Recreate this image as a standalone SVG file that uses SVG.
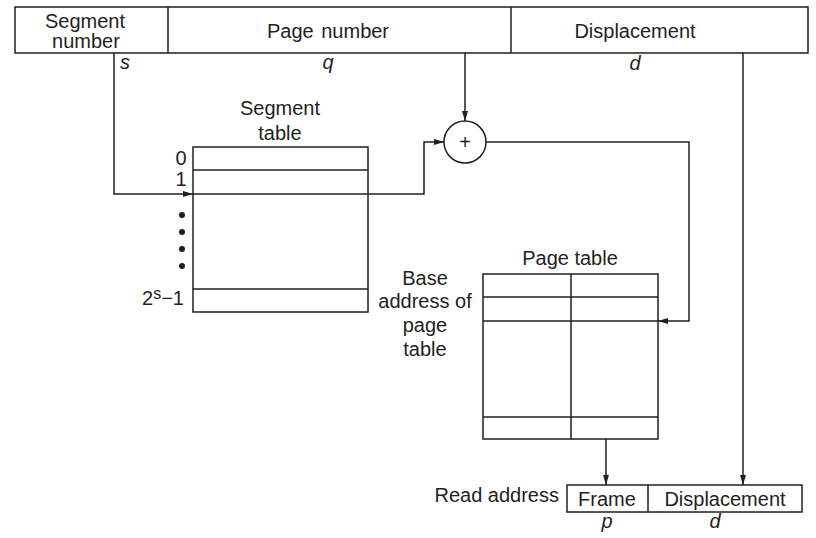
<svg xmlns="http://www.w3.org/2000/svg" width="816" height="538" viewBox="0 0 816 538">
<style>
text{font-family:"Liberation Sans",Arial,sans-serif;font-size:20px;fill:#231f20}
.c{text-anchor:middle}
.e{text-anchor:end}
.i{font-style:italic}
.b{fill:#fff;stroke:#231f20;stroke-width:1.5}
.l{fill:none;stroke:#231f20;stroke-width:1.5}
.w{fill:none;stroke:#231f20;stroke-width:1.5}
</style>
<defs>
<marker id="a" viewBox="0 0 10 6" refX="10" refY="3" markerWidth="10" markerHeight="6" markerUnits="userSpaceOnUse" orient="auto">
<path d="M0,0 L10,3 L0,6 z" fill="#231f20"/>
</marker>
</defs>
<g id="virtual-address">
<rect class="b" x="15" y="7" width="793" height="46"/>
<line class="l" x1="168" y1="7" x2="168" y2="53"/>
<line class="l" x1="511" y1="7" x2="511" y2="53"/>
<text class="c" x="85" y="28">Segment</text>
<text class="c" x="86" y="48">number</text>
<text class="c" x="328" y="38" word-spacing="2">Page number</text>
<text class="c" x="635" y="38">Displacement</text>
<text class="c i" x="125" y="69">s</text>
<text class="c i" x="328" y="69">q</text>
<text class="c i" x="635" y="70">d</text>
</g>
<g id="segment-table">
<text class="c" x="280" y="115">Segment</text>
<text class="c" x="280" y="140">table</text>
<rect class="b" x="193" y="147" width="175" height="165"/>
<line class="l" x1="193" y1="170" x2="368" y2="170"/>
<line class="l" x1="193" y1="194" x2="368" y2="194"/>
<line class="l" x1="193" y1="289" x2="368" y2="289"/>
<text class="c" x="181" y="165">0</text>
<text class="c" x="181" y="186">1</text>
<circle cx="182" cy="215" r="3" fill="#231f20"/>
<circle cx="182" cy="232" r="3" fill="#231f20"/>
<circle cx="182" cy="249" r="3" fill="#231f20"/>
<circle cx="182" cy="266" r="3" fill="#231f20"/>
<text class="e" x="184" y="305">2<tspan font-size="16" dy="-6">s</tspan><tspan dy="6">−1</tspan></text>
</g>
<g id="adder">
<circle class="b" cx="465" cy="142" r="21"/>
<text class="c" x="465" y="149">+</text>
</g>
<g id="page-table">
<text class="c" x="570" y="265">Page table</text>
<rect class="b" x="483" y="274" width="175" height="165"/>
<line class="l" x1="483" y1="297" x2="658" y2="297"/>
<line class="l" x1="483" y1="321" x2="658" y2="321"/>
<line class="l" x1="483" y1="417" x2="658" y2="417"/>
<line class="l" x1="571" y1="274" x2="571" y2="439"/>
<text class="c" x="425" y="285">Base</text>
<text class="c" x="425" y="308">address of</text>
<text class="c" x="425" y="332">page</text>
<text class="c" x="425" y="356">table</text>
</g>
<g id="read-address">
<text class="e" x="559" y="502">Read address</text>
<rect class="b" x="567" y="485" width="235" height="27"/>
<line class="l" x1="648" y1="485" x2="648" y2="512"/>
<text class="c" x="607" y="506">Frame</text>
<text class="c" x="725" y="506">Displacement</text>
<text class="c i" x="607" y="528">p</text>
<text class="c i" x="715" y="528">d</text>
</g>
<g id="connectors">
<polyline class="w" points="114,53 114,194 193,194" marker-end="url(#a)"/>
<polyline class="w" points="368,194 424,194 424,142 444,142" marker-end="url(#a)"/>
<line class="w" x1="465" y1="53" x2="465" y2="121" marker-end="url(#a)"/>
<polyline class="w" points="486,142 689,142 689,321 658,321" marker-end="url(#a)"/>
<line class="w" x1="743" y1="53" x2="743" y2="485" marker-end="url(#a)"/>
<line class="w" x1="606" y1="439" x2="606" y2="485" marker-end="url(#a)"/>
</g>
</svg>
